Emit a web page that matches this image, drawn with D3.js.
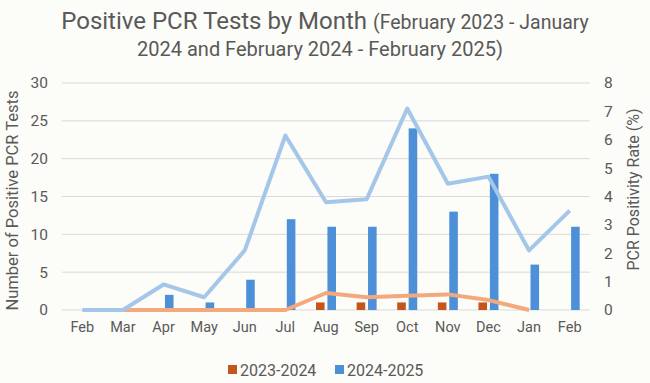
<!DOCTYPE html>
<html>
<head>
<meta charset="utf-8">
<script src="https://cdn.jsdelivr.net/npm/d3@7"></script>
<style>
  body { margin: 0; background: #fcfcf8; }
  #chart svg { display: block; }
</style>
</head>
<body>
<div id="chart"></div>
<script>
// Data
const months = ["Feb", "Mar", "Apr", "May", "Jun", "Jul", "Aug", "Sep", "Oct", "Nov", "Dec", "Jan", "Feb"];
const seriesNames = ["2023-2024", "2024-2025"];
const tests2324 = [0, 0, 0, 0, 0, 0, 1, 1, 1, 1, 1, 0, 0];
const tests2425 = [0, 0, 2, 1, 4, 12, 11, 11, 24, 13, 18, 6, 11];
// positivity rate (%), null = no point
const rate2324 = [null, 0, 0, 0, 0, 0, 0.6, 0.45, 0.5, 0.55, 0.35, 0, null];
const rate2425 = [0, 0, 0.9, 0.45, 2.1, 6.15, 3.8, 3.9, 7.1, 4.45, 4.7, 2.1, 3.5];
const leftTicks = [0, 5, 10, 15, 20, 25, 30];
const rightTicks = [0, 1, 2, 3, 4, 5, 6, 7, 8];

const width = 650;
const height = 383;
const margin = { top: 83, right: 60, bottom: 73, left: 62 };
const innerWidth = width - margin.left - margin.right;
const innerHeight = height - margin.top - margin.bottom;

const barColors = ["#c5561b", "#4d90d8"];
const lineColors = ["#f3a97c", "#a4c7e9"];
const textColor = "#595959";
const font = "Roboto, 'Liberation Sans', sans-serif";

const svg = d3.select("#chart")
  .append("svg")
  .attr("width", width)
  .attr("height", height)
  .style("font-family", font);

svg.append("rect").attr("width", width).attr("height", height).attr("fill", "#fcfcf8");

// Title
const title = svg.append("text")
  .attr("x", 325).attr("y", 29)
  .attr("text-anchor", "middle")
  .attr("fill", textColor);
title.append("tspan")
  .style("font-size", "24px")
  .text("Positive PCR Tests by Month ");
title.append("tspan")
  .style("font-size", "19.5px")
  .text("(February 2023 - January");
svg.append("text")
  .attr("x", 320).attr("y", 56)
  .attr("text-anchor", "middle")
  .attr("fill", textColor)
  .style("font-size", "20px")
  .text("2024 and February 2024 - February 2025)");

const innerChart = svg.append("g")
  .attr("transform", `translate(${margin.left}, ${margin.top})`);

// Scales
const xScale = d3.scaleBand()
  .domain(d3.range(months.length))
  .range([0, innerWidth]);

const xSub = d3.scaleBand()
  .domain(seriesNames)
  .range([xScale.bandwidth() / 2 - 10, xScale.bandwidth() / 2 + 10])
  .paddingInner(0.25);

const yLeft = d3.scaleLinear().domain([0, 30]).range([innerHeight, 0]);
const yRight = d3.scaleLinear().domain([0, 8]).range([innerHeight, 0]);

// Gridlines
innerChart.selectAll(".grid")
  .data(leftTicks)
  .join("line")
  .attr("class", "grid")
  .attr("x1", 0).attr("x2", innerWidth)
  .attr("y1", d => yLeft(d)).attr("y2", d => yLeft(d))
  .attr("stroke", "#d9d9d9")
  .attr("stroke-width", 1);

// Bars
const barData = months.map((m, i) => [
  { series: seriesNames[0], i, value: tests2324[i] },
  { series: seriesNames[1], i, value: tests2425[i] }
]).flat().filter(d => d.value > 0);

innerChart.selectAll(".bar")
  .data(barData)
  .join("rect")
  .attr("class", "bar")
  .attr("x", d => xScale(d.i) + xSub(d.series))
  .attr("y", d => yLeft(d.value))
  .attr("width", xSub.bandwidth())
  .attr("height", d => innerHeight - yLeft(d.value))
  .attr("fill", d => barColors[seriesNames.indexOf(d.series)]);

// Lines
const line = d3.line()
  .defined(d => d.v !== null)
  .x(d => xScale(d.i) + xScale.bandwidth() / 2)
  .y(d => yRight(d.v));

[rate2324, rate2425].forEach((rates, k) => {
  innerChart.append("path")
    .datum(rates.map((v, i) => ({ i, v })))
    .attr("fill", "none")
    .attr("stroke", lineColors[k])
    .attr("stroke-width", 4)
    .attr("stroke-linejoin", "round")
    .attr("d", line);
});

// X axis labels
const bottomAxis = d3.axisBottom(xScale).tickFormat(i => months[i]).tickSize(0).tickPadding(12);
innerChart.append("g")
  .attr("transform", `translate(0, ${innerHeight})`)
  .call(bottomAxis)
  .call(g => g.select(".domain").remove())
  .selectAll("text")
  .attr("fill", textColor)
  .style("font-family", font)
  .style("font-size", "14.5px");

// Left axis
const leftAxis = d3.axisLeft(yLeft).tickValues(leftTicks).tickSize(0).tickPadding(14);
innerChart.append("g")
  .call(leftAxis)
  .call(g => g.select(".domain").remove())
  .selectAll("text")
  .attr("fill", textColor)
  .style("font-family", font)
  .style("font-size", "15.5px");

// Right axis
const rightAxis = d3.axisRight(yRight).tickValues(rightTicks).tickSize(0).tickPadding(14);
innerChart.append("g")
  .attr("transform", `translate(${innerWidth}, 0)`)
  .call(rightAxis)
  .call(g => g.select(".domain").remove())
  .selectAll("text")
  .attr("fill", textColor)
  .style("font-family", font)
  .style("font-size", "15.5px");

// Axis titles
svg.append("text")
  .text("Number of Positive PCR Tests")
  .attr("transform", `translate(18, ${margin.top + innerHeight / 2 + 4}) rotate(-90)`)
  .attr("text-anchor", "middle")
  .attr("fill", textColor)
  .style("font-size", "16.5px");

svg.append("text")
  .text("PCR Positivity Rate (%)")
  .attr("transform", `translate(639, ${margin.top + innerHeight / 2 - 7}) rotate(-90)`)
  .attr("text-anchor", "middle")
  .attr("fill", textColor)
  .style("font-size", "16px");

// Legend
const legend = svg.append("g")
  .attr("transform", `translate(228, 370)`);
const legendX = [0, 107];
seriesNames.forEach((name, i) => {
  const row = legend.append("g").attr("transform", `translate(${legendX[i]}, 0)`);
  row.append("rect")
    .attr("x", 0).attr("y", -5)
    .attr("width", 9).attr("height", 9)
    .attr("fill", barColors[i]);
  row.append("text")
    .attr("x", 12).attr("y", 5.5)
    .text(name)
    .attr("fill", textColor)
    .style("font-size", "16px");
});
</script>
</body>
</html>
